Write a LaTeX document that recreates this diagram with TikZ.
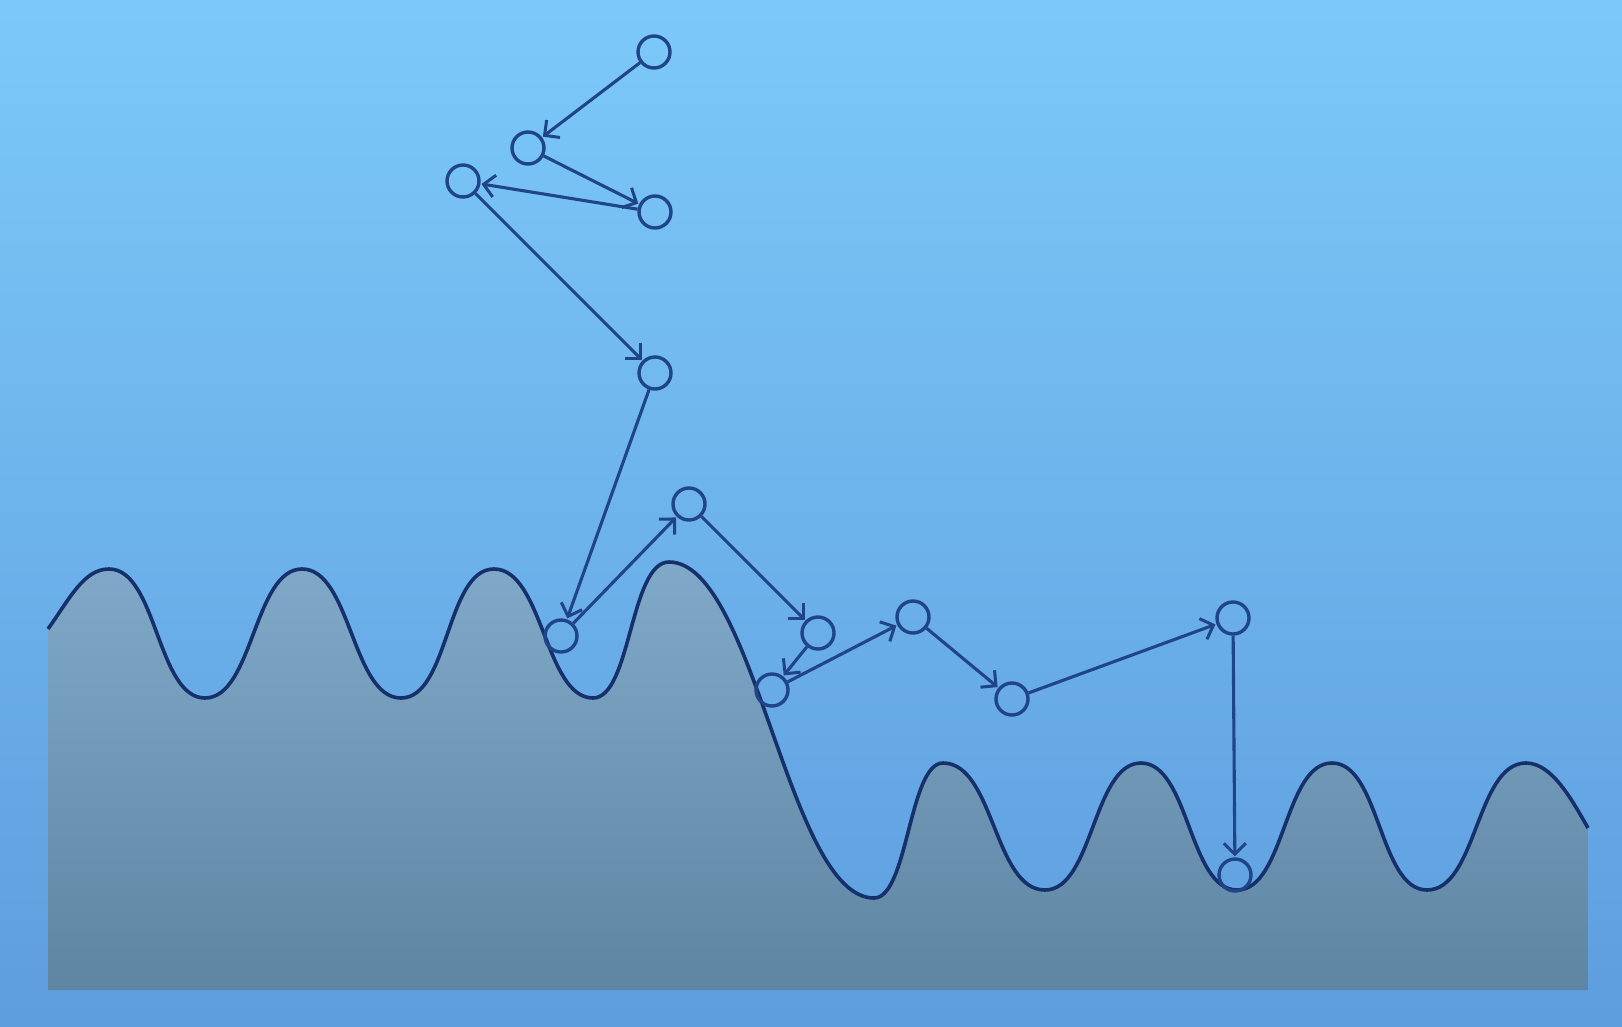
\documentclass[tikz,border=0pt]{standalone}
\usetikzlibrary{arrows.meta}
\definecolor{bgtop}{HTML}{7CC9F9}
\definecolor{bgbot}{HTML}{5E9DDE}
\definecolor{terrtop}{HTML}{80A8C8}
\definecolor{terrbot}{HTML}{5E86A3}
\definecolor{ink}{HTML}{1F4488}
\definecolor{curveink}{HTML}{15306A}
\tikzset{
  pt/.style={circle,draw=ink,line width=3.4pt,minimum size=32pt,inner sep=0pt},
  link/.style={draw=ink,line width=3.1pt,-{Straight Barb[length=11pt,width=22pt,line width=3pt]},shorten >=1pt},
}
\begin{document}
\begin{tikzpicture}[x=1pt,y=-1pt]
\useasboundingbox (0,0) rectangle (1622,1026);
\shade[top color=bgtop,bottom color=bgbot] (0,0) rectangle (1622,1026);
% terrain
\def\terrain{(48,629) .. controls (70,598) and (84,569) .. (109,569)
  .. controls (157,569) and (157,698) .. (205,698)
  .. controls (253,698) and (254,569) .. (302,569)
  .. controls (351,569) and (352,698) .. (401,698)
  .. controls (449,698) and (446,569) .. (494,569)
  .. controls (543,569) and (545,698) .. (593,698)
  .. controls (631,698) and (630,562) .. (669,562)
  .. controls (755,562) and (788,898) .. (874,898)
  .. controls (908,898) and (909,763) .. (943,763)
  .. controls (994,763) and (994,890) .. (1045,890)
  .. controls (1093,890) and (1093,763) .. (1141,763)
  .. controls (1189,763) and (1189,890) .. (1237,890)
  .. controls (1285,890) and (1284,763) .. (1332,763)
  .. controls (1380,763) and (1379,890) .. (1427,890)
  .. controls (1477,890) and (1476,763) .. (1526,763)
  .. controls (1552,763) and (1572,800) .. (1588,828)}
\shade[top color=terrtop,bottom color=terrbot] \terrain -- (1588,990) -- (48,990) -- cycle;
\draw[curveink,line width=3.6pt] \terrain;
% nodes
\node[pt] (A) at (654,52) {};
\node[pt] (B) at (528,148) {};
\node[pt] (C) at (463,181) {};
\node[pt] (D) at (655,212) {};
\node[pt] (E) at (655,373) {};
\node[pt] (F) at (561,636) {};
\node[pt] (G) at (689,504) {};
\node[pt] (H) at (818,633) {};
\node[pt] (I) at (772,690) {};
\node[pt] (J) at (913,617) {};
\node[pt] (K) at (1012,699) {};
\node[pt] (L) at (1233,618) {};
\node[pt] (M) at (1235,875) {};
% links
\draw[link] (A) -- (B);
\draw[link] (B) -- (D);
\draw[link] (D) -- (C);
\draw[link] (C) -- (E);
\draw[link] (E) -- (F);
\draw[link] (F) -- (G);
\draw[link] (G) -- (H);
\draw[link] (H) -- (I);
\draw[link] (I) -- (J);
\draw[link] (J) -- (K);
\draw[link] (K) -- (L);
\draw[link] (L) -- (M);
\end{tikzpicture}
\end{document}
